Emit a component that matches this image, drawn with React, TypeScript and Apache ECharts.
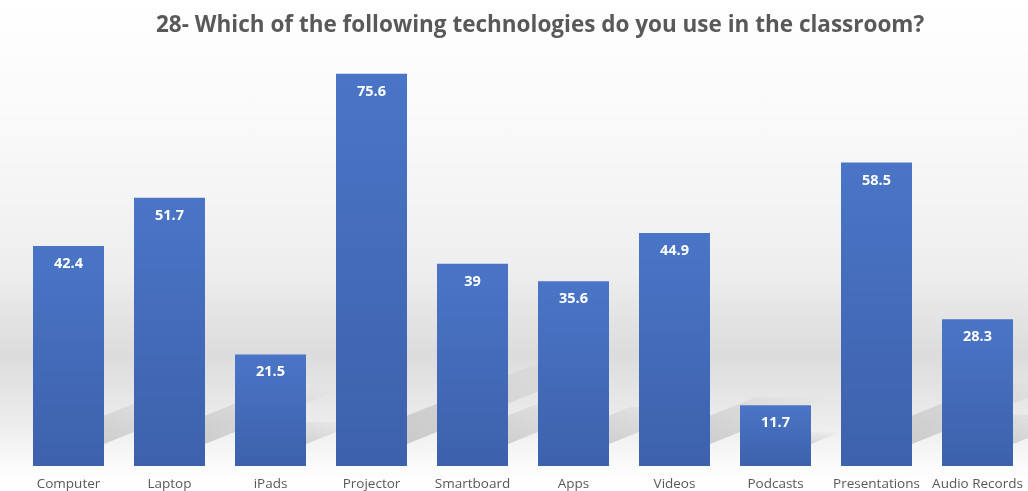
import React, { useEffect, useRef } from "react";
import * as echarts from "echarts";

const titleText = "28- Which of the following technologies do you use in the classroom?";
const categories = [
  "Computer",
  "Laptop",
  "iPads",
  "Projector",
  "Smartboard",
  "Apps",
  "Videos",
  "Podcasts",
  "Presentations",
  "Audio Records",
];
const values = [42.4, 51.7, 21.5, 75.6, 39, 35.6, 44.9, 11.7, 58.5, 28.3];

export default function App() {
  const ref = useRef<HTMLDivElement>(null);
  useEffect(() => {
    if (!ref.current) return;
    const chart = echarts.init(ref.current, undefined, { renderer: "svg" });
    const font = "'Open Sans', 'Liberation Sans', sans-serif";
    chart.setOption({
      animation: false,
      backgroundColor: "transparent",
      graphic: [
        {
          type: "rect",
          z: -10,
          silent: true,
          shape: { x: 0, y: 0, width: 1028, height: 491 },
          style: {
            fill: new echarts.graphic.LinearGradient(0, 0, 0, 1, [
              { offset: 0, color: "#ffffff" },
              { offset: 0.3, color: "#f8f8f8" },
              { offset: 0.55, color: "#eeeeee" },
              { offset: 0.72, color: "#dcdcdc" },
              { offset: 0.86, color: "#ececec" },
              { offset: 0.95, color: "#fbfbfb" },
              { offset: 1, color: "#ffffff" },
            ]),
          },
        },
      ],
      title: {
        text: titleText,
        left: 151,
        top: 7,
        textStyle: {
          fontFamily: font,
          fontWeight: "bold",
          fontSize: 22.5,
          color: "#595959",
        },
      },
      grid: { left: 18, right: -3, top: 51, bottom: 25, containLabel: false },
      xAxis: {
        type: "category",
        data: categories,
        axisLine: { show: false },
        axisTick: { show: false },
        axisLabel: {
          fontFamily: font,
          fontSize: 13.5,
          color: "#595959",
          margin: 10,
          interval: 0,
        },
      },
      yAxis: {
        type: "value",
        min: 0,
        max: 80,
        show: false,
        splitLine: { show: false },
      },
      series: [
        {
          type: "custom",
          z: 1,
          silent: true,
          data: values.map((v, i) => [i, v]),
          renderItem: (params: any, api: any) => {
            const base = api.coord([api.value(0), 0]);
            const top = api.coord([api.value(0), api.value(1)]);
            const h = base[1] - top[1];
            const bw = 71;
            const x0 = base[0] - bw / 2;
            const x1 = base[0] + bw / 2;
            const d = 22;
            const L = h * 0.5;
            const s = 0.4;
            const yb = base[1] - d;
            return {
              type: "polygon",
              shape: {
                points: [
                  [x0, yb],
                  [x1, yb],
                  [x1 + L, yb - L * s],
                  [x0 + L, yb - L * s],
                ],
              },
              style: {
                fill: new echarts.graphic.LinearGradient(0, 1, 1, 0, [
                  { offset: 0, color: "rgba(110,110,110,0.35)" },
                  { offset: 1, color: "rgba(110,110,110,0.0)" },
                ]),
              },
            };
          },
        },
        {
          type: "bar",
          z: 2,
          data: values,
          barWidth: 71,
          itemStyle: {
            color: new echarts.graphic.LinearGradient(0, 0, 0, 1, [
              { offset: 0, color: "#4A75C6" },
              { offset: 1, color: "#3D61AC" },
            ]),
          },
          label: {
            show: true,
            position: "insideTop",
            distance: 9,
            fontFamily: font,
            fontWeight: "bold",
            fontSize: 14.5,
            color: "#ffffff",
          },
        },
      ],
    });
    return () => chart.dispose();
  }, []);
  return (
    <div
      ref={ref}
      style={{ position: "fixed", left: 0, top: 0, width: 1028, height: 491 }}
    />
  );
}
